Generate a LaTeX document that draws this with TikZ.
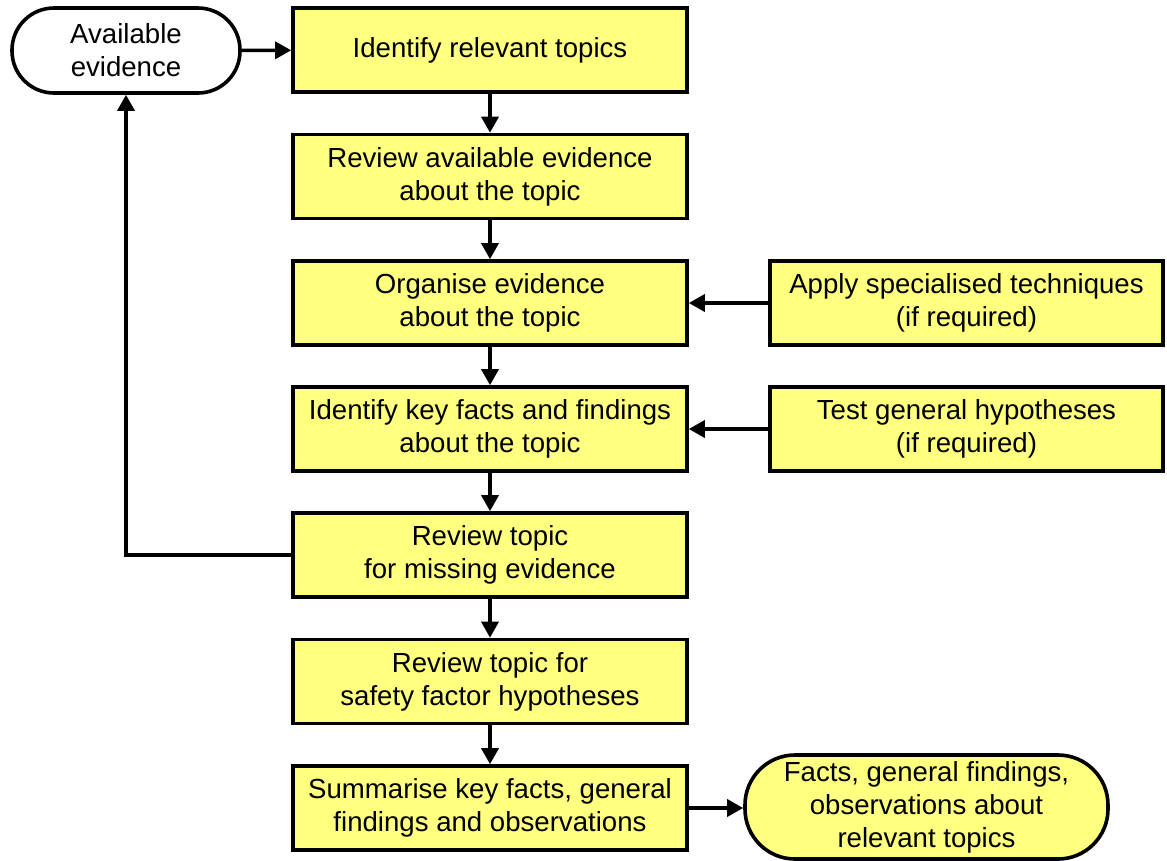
\documentclass[tikz,border=0pt]{standalone}
\usepackage{fontspec}
\setmainfont{Liberation Sans}
\usetikzlibrary{arrows.meta}
\definecolor{boxfill}{HTML}{FFFF80}
\tikzset{
  stepbox/.style={draw=black, line width=3.6pt, fill=boxfill, rectangle,
    minimum width=394pt, minimum height=84pt, align=center, inner sep=0pt,
    font=\fontsize{27.6}{33}\selectfont},
  sidebox/.style={stepbox, minimum width=393pt},
  terminal/.style={draw=black, line width=3.6pt, rectangle, rounded corners=42pt,
    align=center, inner sep=0pt, font=\fontsize{27.6}{33}\selectfont},
  flow/.style={draw=black, line width=3.4pt, -{Triangle[length=16pt,width=17pt]}},
}
\begin{document}
\begin{tikzpicture}[x=1pt,y=-1pt]
\useasboundingbox (0,0) rectangle (1167,860);
% inputs and outputs
\node[terminal, fill=white, minimum width=228pt, minimum height=85pt] (avail) at (126,50.5) {Available\\evidence};
\node[terminal, fill=boxfill, rounded corners=50pt, minimum width=363pt, minimum height=104pt] (facts) at (926.5,807) {Facts, general findings,\\observations about\\relevant topics};
% main sequence of steps
\node[stepbox] (s1) at (490,50) {Identify relevant topics};
\node[stepbox] (s2) at (490,176.5) {Review available evidence\\about the topic};
\node[stepbox] (s3) at (490,303) {Organise evidence\\about the topic};
\node[stepbox] (s4) at (490,429) {Identify key facts and findings\\about the topic};
\node[stepbox] (s5) at (490,555) {Review topic\\for missing evidence};
\node[stepbox] (s6) at (490,681.5) {Review topic for\\safety factor hypotheses};
\node[stepbox] (s7) at (490,808) {Summarise key facts, general\\findings and observations};
% optional supporting steps
\node[sidebox] (t3) at (966.5,303) {Apply specialised techniques\\(if required)};
\node[sidebox] (t4) at (966.5,429) {Test general hypotheses\\(if required)};
% connectors
\draw[flow] (avail) -- (s1);
\draw[flow] (s1) -- (s2);
\draw[flow] (s2) -- (s3);
\draw[flow] (s3) -- (s4);
\draw[flow] (s4) -- (s5);
\draw[flow] (s5) -- (s6);
\draw[flow] (s6) -- (s7);
\draw[flow] (t3) -- (s3);
\draw[flow] (t4) -- (s4);
\draw[flow] (s7) -- (facts.west |- s7);
\draw[flow] (s5.west) -| (avail.south);
\end{tikzpicture}
\end{document}
